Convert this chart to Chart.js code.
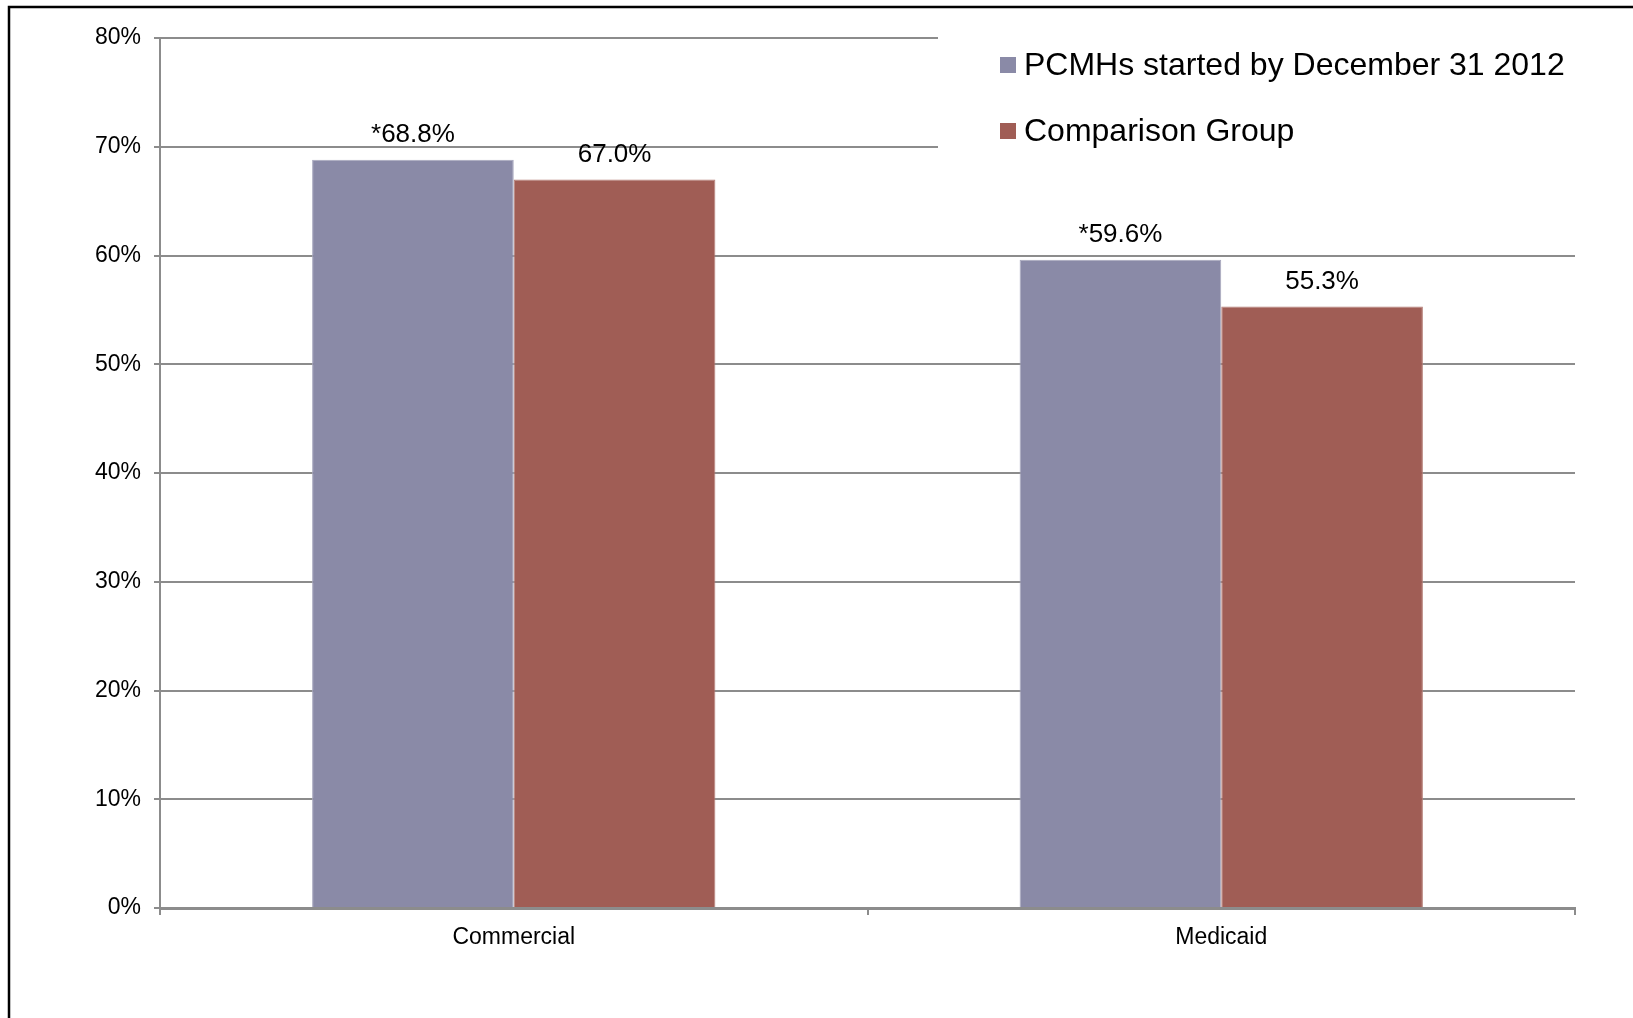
<!DOCTYPE html>
<html>
<head>
<meta charset="utf-8">
<script src="https://cdn.jsdelivr.net/npm/chart.js@4/dist/chart.umd.min.js"></script>
<style>
  html, body { margin: 0; padding: 0; background: #fff; }
  #wrap { position: relative; width: 1633px; height: 1018px; }
</style>
</head>
<body>
<div id="wrap"><canvas id="chart" width="1633" height="1018"></canvas></div>
<script>
// ---- data ----
const categories   = ['Commercial', 'Medicaid'];
const seriesNames  = ['PCMHs started by December 31 2012', 'Comparison Group'];
const pcmhValues   = [68.8, 59.6];
const compValues   = [67.0, 55.3];
const pcmhMarks    = ['*', '*'];   // significance marker shown before the label
const compMarks    = ['', ''];
const yTicks       = [0, 10, 20, 30, 40, 50, 60, 70, 80];

const PURPLE = '#8a8aa7';
const RED    = '#a05d55';
const FONT   = '"Liberation Sans", Arial, Helvetica, sans-serif';

// frame round the whole figure (only top and left are in view)
const framePlugin = {
  id: 'frame',
  beforeDraw(chart) {
    const c = chart.ctx;
    c.save();
    c.fillStyle = '#fff';
    c.fillRect(0, 0, chart.width, chart.height);
    c.strokeStyle = '#000';
    c.lineWidth = 2.5;
    c.beginPath();
    c.moveTo(9, chart.height);
    c.lineTo(9, 7);
    c.lineTo(chart.width, 7);
    c.stroke();
    c.restore();
  }
};

// value labels above each bar
const valueLabels = {
  id: 'valueLabels',
  afterDatasetsDraw(chart) {
    const c = chart.ctx;
    const marks = [pcmhMarks, compMarks];
    c.save();
    c.font = '26px ' + FONT;
    c.fillStyle = '#000';
    c.textAlign = 'center';
    c.textBaseline = 'middle';
    chart.data.datasets.forEach((ds, di) => {
      chart.getDatasetMeta(di).data.forEach((bar, i) => {
        c.fillText(marks[di][i] + ds.data[i].toFixed(1) + '%', bar.x, bar.y - 25);
      });
    });
    c.restore();
  }
};

// legend sits inside the plot on a white box, like the original
const boxLegend = {
  id: 'boxLegend',
  afterDraw(chart) {
    const c = chart.ctx;
    c.save();
    c.fillStyle = '#fff';
    c.fillRect(938, 20, chart.width - 938, 175);
    c.font = '32px ' + FONT;
    c.textBaseline = 'middle';
    c.textAlign = 'left';
    const rows = [65, 131];
    chart.data.datasets.forEach((ds, i) => {
      c.fillStyle = ds.backgroundColor;
      c.fillRect(1000, rows[i] - 8, 16, 16);
      c.fillStyle = '#000';
      c.fillText(ds.label, 1024, rows[i] + 1);
    });
    c.restore();
  }
};

new Chart(document.getElementById('chart'), {
  type: 'bar',
  data: {
    labels: categories,
    datasets: [
      { label: seriesNames[0], data: pcmhValues, backgroundColor: PURPLE, borderColor: '#a6a6bd', borderWidth: 1 },
      { label: seriesNames[1], data: compValues, backgroundColor: RED, borderColor: '#b47c75', borderWidth: 1 }
    ]
  },
  options: {
    responsive: false,
    animation: false,
    devicePixelRatio: 1,
    layout: { padding: { top: 38, right: 58, bottom: 0, left: 0 } },
    datasets: { bar: { categoryPercentage: 0.57, barPercentage: 1.0 } },
    plugins: {
      legend: { display: false },
      tooltip: { enabled: false }
    },
    scales: {
      x: {
        afterFit(scale) { scale.height = 110; },
        grid: {
          offset: true,
          drawOnChartArea: false,
          drawTicks: true,
          tickLength: 7,
          color: '#8c8c8c',
          lineWidth: 2
        },
        border: { color: '#8c8c8c', width: 3 },
        ticks: { color: '#000', padding: 9, font: { family: FONT, size: 23 } }
      },
      y: {
        min: 0,
        max: 80,
        afterFit(scale) { scale.width = 160; },
        afterBuildTicks(scale) { scale.ticks = yTicks.map(v => ({ value: v })); },
        grid: {
          color: '#8c8c8c',
          lineWidth: 2,
          drawTicks: true,
          tickLength: 6
        },
        border: { color: '#8c8c8c', width: 2 },
        ticks: {
          color: '#000',
          padding: 13,
          font: { family: FONT, size: 23 },
          callback: v => v + '%'
        }
      }
    }
  },
  plugins: [framePlugin, valueLabels, boxLegend]
});
</script>
</body>
</html>
